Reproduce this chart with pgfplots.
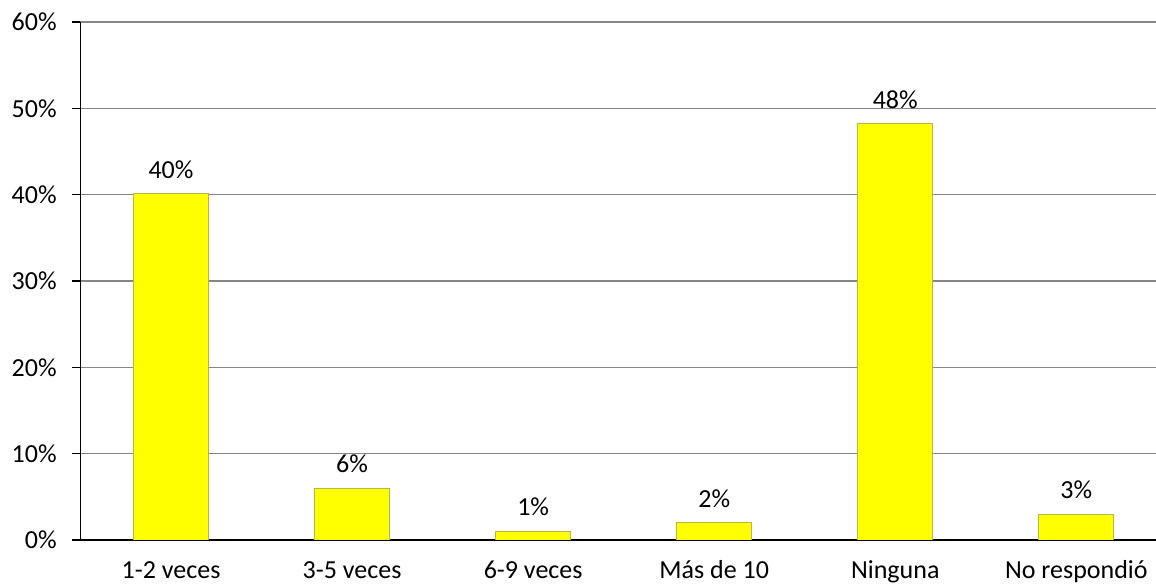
\documentclass[border=0pt]{standalone}
\usepackage{fontspec}
\setmainfont{Carlito}
\usepackage{pgfplots}
\pgfplotsset{compat=1.18}
\definecolor{barfill}{HTML}{FFFF00}
\definecolor{baredge}{HTML}{B5B54A}
\definecolor{gridc}{HTML}{868686}
\begin{document}
\fontsize{26}{30}\selectfont
\begin{tikzpicture}
\useasboundingbox (-80.5pt,-45pt) rectangle (1075.5pt,540pt);
\begin{axis}[
  at={(0,0)}, anchor=south west,
  scale only axis, width=1075.5pt, height=518pt,
  xmin=-0.5, xmax=5.44, ymin=0, ymax=60,
  axis lines=left,
  axis line style={-, black, line width=1.3pt},
  xtick={0,...,5},
  xticklabels={1-2 veces, 3-5 veces, 6-9 veces, Más de 10, Ninguna, No respondió},
  xtick style={draw=none},
  xticklabel style={text height=16.5pt, text depth=0pt, inner sep=0pt, anchor=north, yshift=-14pt},
  ytick={0,10,...,60},
  yticklabels={0\%,10\%,20\%,30\%,40\%,50\%,60\%},
  ytick style={black, line width=1.3pt},
  tick align=outside,
  major tick length=8pt,
  yticklabel style={xshift=-7pt},
  ymajorgrids,
  grid style={gridc, line width=1.2pt},
  ybar, bar width=75pt,
  nodes near coords,
  point meta=explicit symbolic,
  every node near coord/.append style={anchor=south, inner sep=0pt, yshift=15pt, black},
]
\addplot[fill=barfill, draw=baredge, line width=0.8pt] table[meta=lab] {
x y lab
0 40.1 40\%
1 6 6\%
2 1 1\%
3 2 2\%
4 48.2 48\%
5 3 3\%
};
\end{axis}
\end{tikzpicture}
\end{document}
